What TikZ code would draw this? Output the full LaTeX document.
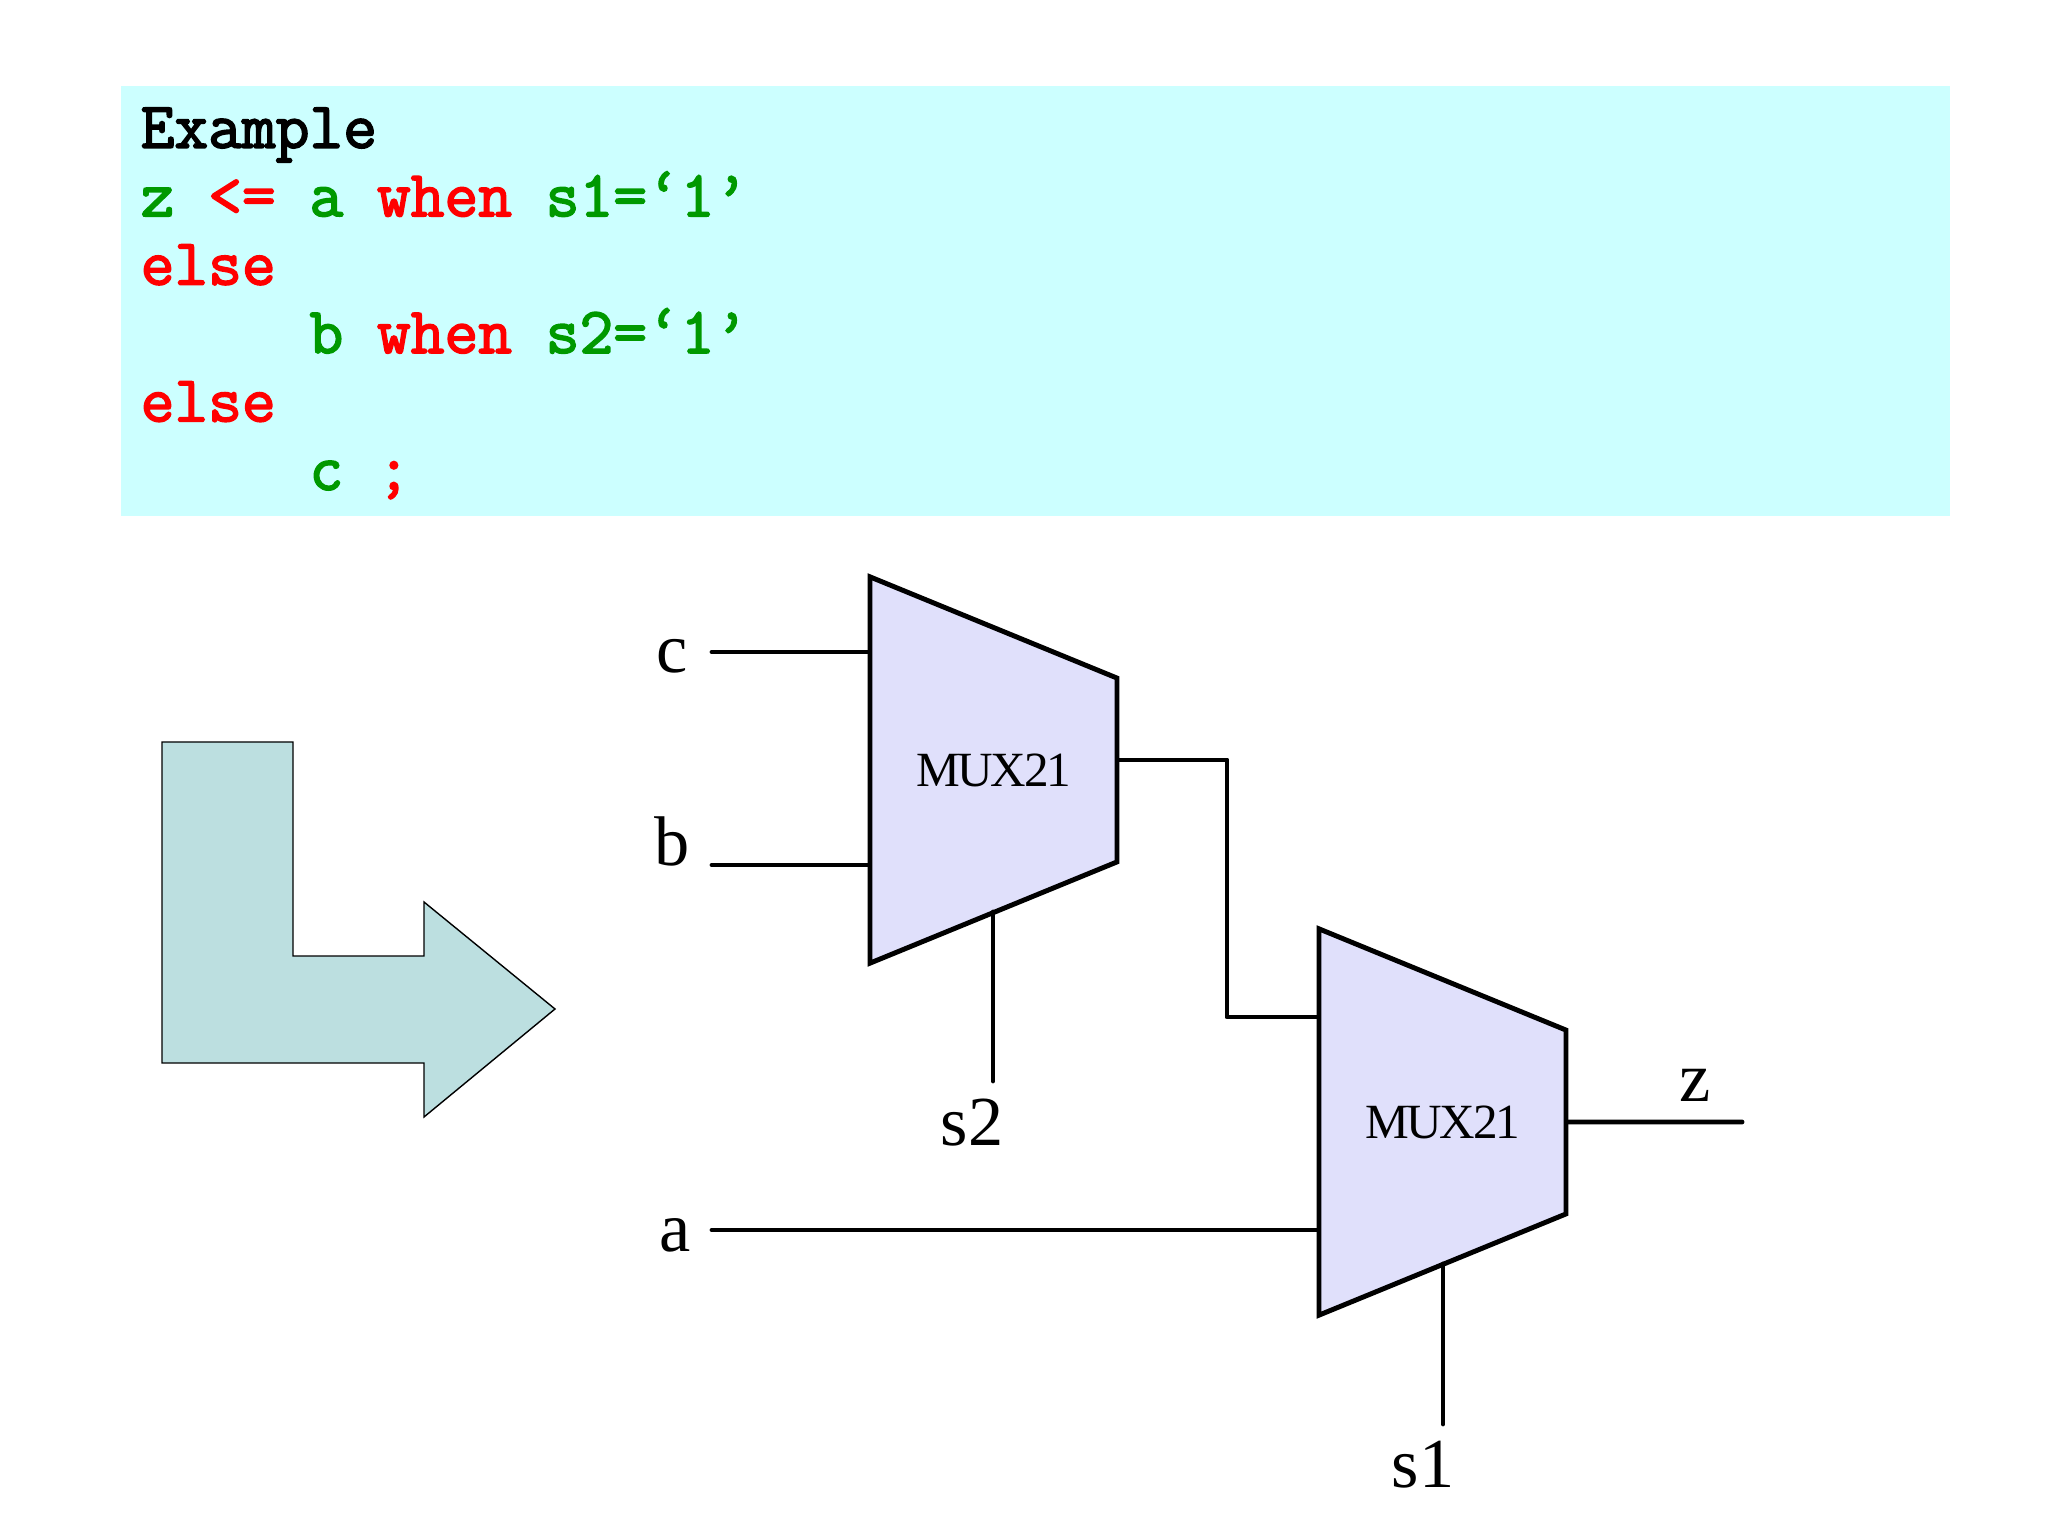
\documentclass[tikz,border=0pt]{standalone}
\usepackage{fontspec}
\setmainfont{Liberation Serif}
\newfontfamily\muxfont[LetterSpace=-4.6]{Liberation Serif}
\newfontfamily\codefont[FakeBold=2.5]{Latin Modern Mono}
\usetikzlibrary{positioning, calc, shapes.geometric}
\definecolor{codebg}{HTML}{CCFFFF}
\definecolor{kw}{HTML}{FF0000}
\definecolor{sig}{HTML}{009900}
\definecolor{muxfill}{HTML}{E0E0FB}
\definecolor{flow}{HTML}{BCDFE0}
\newcommand{\kw}[1]{\textcolor{kw}{#1}}
\newcommand{\sig}[1]{\textcolor{sig}{#1}}

\begin{document}
\begin{tikzpicture}[
    codebox/.style={anchor=north west, fill=codebg, inner xsep=0.20cm, inner ysep=0pt,
      text width=17.89cm, minimum height=4.30cm, align=flush left,
      font=\codefont\fontsize{18.65pt}{19.46pt}\selectfont},
    muxbox/.style={trapezium, trapezium stretches=true, shape border rotate=270,
      trapezium angle=83.3, draw, fill=muxfill, line width=1.4pt, line join=miter,
      minimum width=3.87cm, minimum height=2.47cm, inner sep=0pt,
      font=\muxfont\fontsize{14pt}{16pt}\selectfont},
    wire/.style={line width=1.4pt, line cap=round, line join=round},
    lbl/.style={font=\fontsize{20pt}{24pt}\selectfont, inner sep=0pt}]
  \useasboundingbox (0,0) rectangle (20.48,-15.36);
  % code
  \node[codebox] (code) at (1.20,-0.85) {\rule{0pt}{12.9pt}Example\\
    \sig{z} \kw{<=} \sig{a} \kw{when} \sig{s1=‘1’}\\
    \kw{else}\\
    \ \ \ \ \ \sig{b} \kw{when} \sig{s2=‘1’}\\
    \kw{else}\\
    \ \ \ \ \ \sig{c} \kw{;}};
  % big arrow
  \draw[fill=flow, line width=0.4pt] (1.62,-7.42) -- (2.93,-7.42) -- (2.93,-9.56) -- (4.24,-9.56)
    -- (4.24,-9.02) -- (5.55,-10.09) -- (4.24,-11.17) -- (4.24,-10.63) -- (1.62,-10.63) -- cycle;
  % muxes
  \node[muxbox] (muxb) at (9.935,-7.70) {MUX21};
  \node[muxbox] (muxa) at (14.425,-11.22) {MUX21};
  % labels
  \node[lbl] (lc) at (6.72,-6.56) {c};
  \node[lbl] (lb) at (6.72,-8.41) {b};
  \node[lbl] (la) at (6.75,-12.35) {a};
  \node[lbl] (ls2) at (9.72,-11.23) {s2};
  \node[lbl] (ls1) at (14.23,-14.65) {s1};
  \node[lbl] (lz) at (16.95,-10.85) {z};
  % free ends
  \coordinate (inc) at (7.12,-6.52);
  \coordinate (inb) at (7.12,-8.65);
  \coordinate (ina) at (7.12,-12.30);
  \coordinate (sel2) at (9.93,-10.81);
  \coordinate (sel1) at (14.43,-14.24);
  \coordinate (outz) at (17.42,-11.22);
  \coordinate (midt) at (12.27,-7.60);
  \coordinate (midb) at (12.27,-10.17);
  \draw[wire] (inc) -- (inc -| muxb.west);
  \draw[wire] (inb) -- (inb -| muxb.west);
  \draw[wire] (ina) -- (ina -| muxa.west);
  \draw[wire] (sel2) -- (9.93,-9.12);
  \draw[wire] (sel1) -- (14.43,-12.64);
  \draw[wire] (muxa.east) -- (outz);
  \draw[wire] (midt -| muxb.east) -- (midt) -- (midb) -- (midb -| muxa.west);
\end{tikzpicture}
\end{document}
